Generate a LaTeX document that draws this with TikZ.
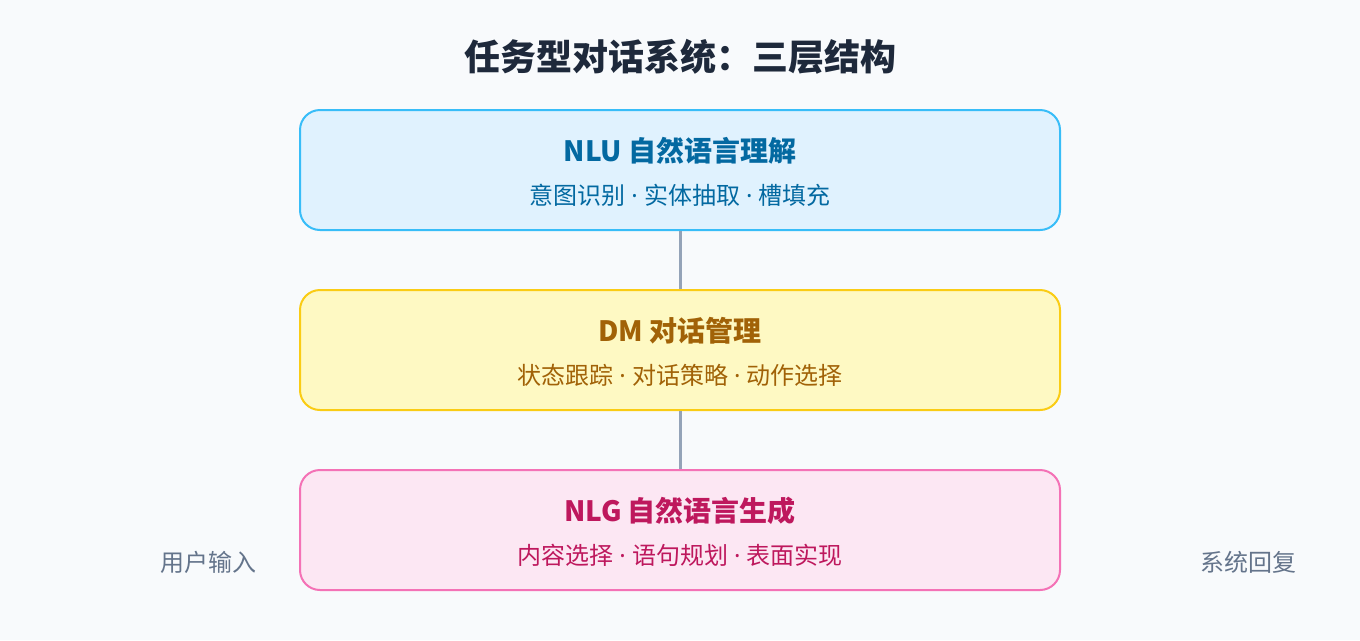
\documentclass[tikz,border=0pt]{standalone}
\usepackage{fontspec}
\setmainfont{Noto Sans CJK SC}
\newfontfamily\latin{Noto Sans}
\usepackage{tikz}
\usetikzlibrary{arrows.meta}
\definecolor{bg}{HTML}{F8FAFC}
\definecolor{ink}{HTML}{1E293B}
\definecolor{muted}{HTML}{64748B}
\definecolor{wire}{HTML}{94A3B8}
\definecolor{nlufill}{HTML}{E0F2FE}
\definecolor{nluline}{HTML}{38BDF8}
\definecolor{nlutext}{HTML}{0369A1}
\definecolor{dmfill}{HTML}{FEF9C3}
\definecolor{dmline}{HTML}{FACC15}
\definecolor{dmtext}{HTML}{A16207}
\definecolor{nlgfill}{HTML}{FCE7F3}
\definecolor{nlgline}{HTML}{F472B6}
\definecolor{nlgtext}{HTML}{BE185D}
\newcommand\dotsep{{\latin\ ·\ }}
\tikzstyle{layer}=[draw,line width=1.5pt,rounded corners=15pt,minimum width=570pt,minimum height=90pt,inner sep=0pt]
\tikzstyle{head} =[font=\fontsize{21}{24}\selectfont\bfseries,inner sep=0pt]
\tikzstyle{tasks}=[font=\fontsize{18}{21}\selectfont,inner sep=0pt]
\tikzstyle{side} =[font=\fontsize{18}{21}\selectfont,text=muted,inner sep=0pt]
\tikzstyle{link} =[draw=wire,line width=2.25pt]

\begin{document}
\begin{tikzpicture}[x=0.75pt,y=-0.75pt]
	\fill[bg] (0,0) rectangle (1360,640);
	\node[font=\fontsize{27}{30}\selectfont\bfseries,text=ink] (title) at (680,57) {任务型对话系统：三层结构};
	% the three layers
	\node[layer,fill=nlufill,draw=nluline] (nlu) at (680,170) {};
	\node[head,text=nlutext]  (nlu-h) at (680,151) {NLU 自然语言理解};
	\node[tasks,text=nlutext] (nlu-t) at (680,195) {意图识别\dotsep 实体抽取\dotsep 槽填充};
	\node[layer,fill=dmfill,draw=dmline] (dm) at (680,350) {};
	\node[head,text=dmtext]   (dm-h) at (680,331) {DM 对话管理};
	\node[tasks,text=dmtext]  (dm-t) at (680,375) {状态跟踪\dotsep 对话策略\dotsep 动作选择};
	\node[layer,fill=nlgfill,draw=nlgline] (nlg) at (680,530) {};
	\node[head,text=nlgtext]  (nlg-h) at (680,511) {NLG 自然语言生成};
	\node[tasks,text=nlgtext] (nlg-t) at (680,555) {内容选择\dotsep 语句规划\dotsep 表面实现};
	\draw[link] (nlu) -- (dm);
	\draw[link] (dm) -- (nlg);
	\node[side] (in)  at (208,562)  {用户输入};
	\node[side] (out) at (1248,562) {系统回复};
\end{tikzpicture}
\end{document}
